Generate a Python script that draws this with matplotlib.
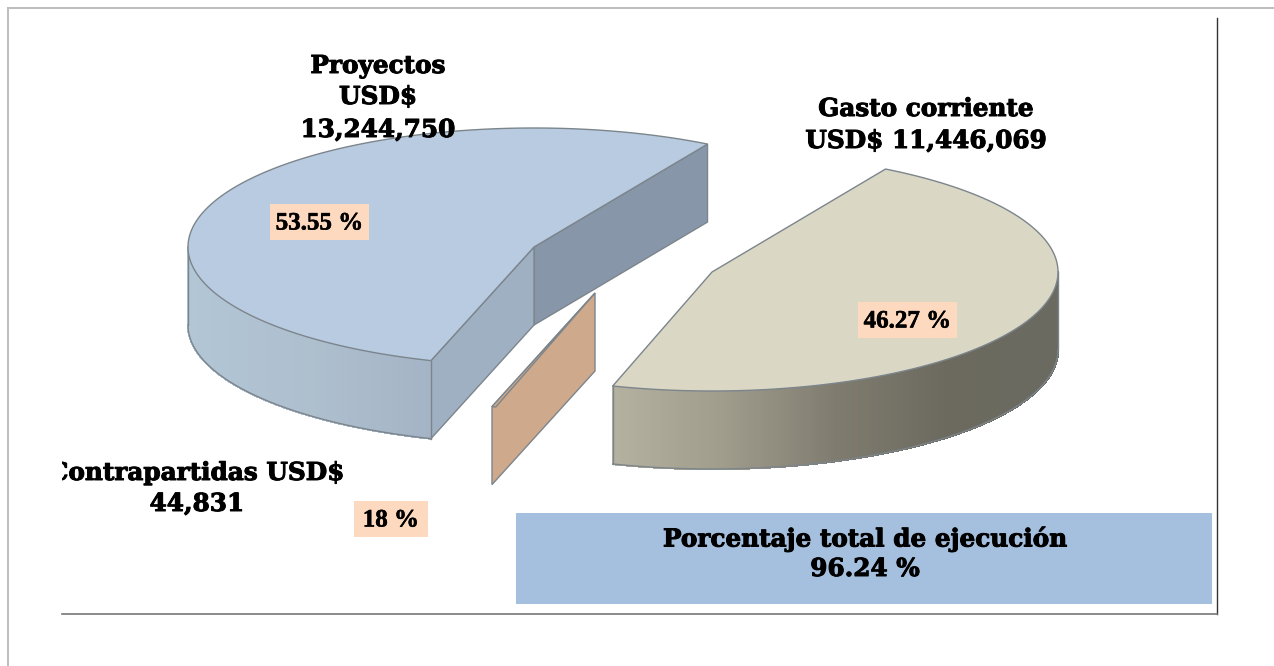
import numpy as np
import matplotlib
matplotlib.use('Agg')
import matplotlib.pyplot as plt
import matplotlib.patheffects as pe
from matplotlib.patches import Polygon, Rectangle
from matplotlib.colors import LinearSegmentedColormap

# Chart data
categories = ['Proyectos', 'Contrapartidas', 'Gasto corriente']
shares = [53.55, 0.18, 46.27]
share_labels = ['53.55 %', '18 %', '46.27 %']
amount_labels = [['Proyectos', 'USD$', '13,244,750'],
                 ['Contrapartidas USD$', '44,831'],
                 ['Gasto corriente', 'USD$ 11,446,069']]
total_label = ['Porcentaje total de ejecución', '96.24 %']

# Pie geometry, in pixels of the picture
start_angle = 59.9
rx, ry = 346, 119
depth = 78
apexes = {'Proyectos': (534, 247), 'Contrapartidas': (595, 293), 'Gasto corriente': (712, 272)}
edge = '#7c858c'
heavy = [pe.withStroke(linewidth=0.7, foreground='black')]

fig = plt.figure(figsize=(12.74, 6.66), dpi=100)
ax = fig.add_axes([0, 0, 1, 1])
ax.set_xlim(0, 1274)
ax.set_ylim(666, 0)
ax.axis('off')


def rim(apex, a0, a1, n=160):
    t = np.radians(np.linspace(a0, a1, n))
    return np.column_stack([apex[0] + rx * np.cos(t), apex[1] - ry * np.sin(t)])


def side_face(p, q, color, z=2):
    pts = [p, q, (q[0], q[1] + depth), (p[0], p[1] + depth)]
    ax.add_patch(Polygon(pts, closed=True, fc=color, ec=edge, lw=1, zorder=z))


def curved_wall(apex, a0, a1, cmap):
    # thin strips so the wall gets its left to right shading
    pts = rim(apex, a0, a1, 200)
    x0, x1 = pts[:, 0].min(), pts[:, 0].max()
    for p, q in zip(pts[:-1], pts[1:]):
        color = cmap((p[0] - x0) / (x1 - x0))
        ax.add_patch(Polygon([p, q, (q[0], q[1] + depth), (p[0], p[1] + depth)],
                             closed=True, fc=color, ec=color, lw=1, antialiased=False, zorder=2))
    ax.plot(pts[:, 0], pts[:, 1] + depth, color=edge, lw=1, zorder=3)
    ax.plot([pts[0, 0]] * 2, [pts[0, 1], pts[0, 1] + depth], color=edge, lw=1, zorder=3)
    ax.plot([pts[-1, 0]] * 2, [pts[-1, 1], pts[-1, 1] + depth], color=edge, lw=1, zorder=3)


# Angles of each slice come from the shares
sweeps = np.array(shares) / sum(shares) * 360
starts = start_angle + np.concatenate([[0], np.cumsum(sweeps)[:-1]])

blue_wall = LinearSegmentedColormap.from_list('b', ['#b2c6d6', '#aebfce', '#a4b4c6'])
sand_wall = LinearSegmentedColormap.from_list('s', ['#b4b1a0', '#a09c8c', '#7f7b6f', '#6c6a5f', '#6a6a60'])

# Proyectos
a0, a1 = starts[0], starts[0] + sweeps[0]
apex = apexes['Proyectos']
pts = rim(apex, a0, a1)
side_face(apex, pts[0], '#8796a8')
side_face(apex, pts[-1], '#a0b0c3')
curved_wall(apex, 180, a1, blue_wall)
ax.add_patch(Polygon(np.vstack([apex, pts]), closed=True, fc='#b9cbe1', ec=edge, lw=1, zorder=4))

# Contrapartidas
a0, a1 = starts[1], starts[1] + sweeps[1]
apex = apexes['Contrapartidas']
pts = rim(apex, a0, a1, 5)
side_face(apex, pts[0], '#cfa98b')
ax.add_patch(Polygon(np.vstack([apex, pts]), closed=True, fc='#cfa98b', ec=edge, lw=1, zorder=4))

# Gasto corriente
a0, a1 = starts[2], starts[2] + sweeps[2]
apex = apexes['Gasto corriente']
pts = rim(apex, a0, a1)
curved_wall(apex, a0, 360, sand_wall)
ax.add_patch(Polygon(np.vstack([apex, pts]), closed=True, fc='#dad8c5', ec=edge, lw=1, zorder=4))

# Percentage boxes
box_color = '#fdd9bf'
share_boxes = [(270, 204, 99, 36), (354, 501, 74, 36), (858, 302, 99, 36)]
for label, (x, y, w, h) in zip(share_labels, share_boxes):
    ax.add_patch(Rectangle((x, y), w, h, fc=box_color, ec='none', zorder=5))
    ax.text(x + w / 2, y + h / 2 + 1, label, ha='center', va='center', fontsize=18,
            fontweight='bold', family='Liberation Serif', color='black', zorder=6,
            path_effects=[pe.withStroke(linewidth=0.4, foreground='black')])

# Amount labels, the left one is cut by the chart area
clip = Rectangle((62, 0), 1155, 614, transform=ax.transData)
for lines, ys, cx in zip(amount_labels, [[66, 97, 130], [473, 504], [109, 141]], [378, 197, 926]):
    for line, y in zip(lines, ys):
        t = ax.text(cx, y, line, ha='center', va='center', fontsize=17.8, fontweight='bold',
                    family='DejaVu Serif', color='black', zorder=6, clip_on=True,
                    path_effects=heavy)
        t.set_clip_path(clip)

# Total box
ax.add_patch(Rectangle((516, 513), 696, 91, fc='#a5bfde', ec='none', zorder=5))
for line, y in zip(total_label, [539, 569]):
    ax.text(865, y, line, ha='center', va='center', fontsize=17.8, fontweight='bold',
            family='DejaVu Serif', color='black', zorder=6, path_effects=heavy)

# Frame lines
ax.plot([8, 1274], [7.5, 7.5], color='#bdbdbd', lw=1.4, zorder=1)
ax.plot([8, 8], [7.5, 666], color='#bdbdbd', lw=1.4, zorder=1)
ax.plot([1217, 1217], [18, 614], color='#333333', lw=1, zorder=1)
ax.plot([62, 1217], [614, 614], color='#777777', lw=1.2, zorder=1)

fig.savefig('out.png', dpi=100)
